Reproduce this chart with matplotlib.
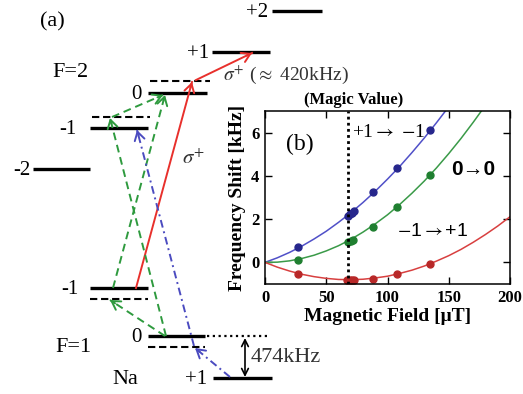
import numpy as np
import matplotlib.pyplot as plt

plt.rcParams['mathtext.fontset'] = 'stix'
SERIF = ['Liberation Serif', 'DejaVu Sans']
SANS = ['Liberation Sans', 'DejaVu Sans']

# ---- (a) Na hyperfine levels (schematic, in picture pixels) ----
lvl_text = ['+2', '+1', '0', '-1', '-2', '-1', '0', '+1']
lvl_x0 = [272, 212, 148, 90, 33, 90, 148, 213]
lvl_x1 = [322, 270, 207, 148, 90, 148, 205, 272]
lvl_y = [11, 52, 93, 128, 169, 288, 336, 378]
lbl_x = [268, 209, 142, 76, 30, 78, 142, 207]

# light-shifted levels (dashed)
sh_x0 = [150, 92, 90, 148]
sh_x1 = [210, 150, 148, 205]
sh_y = [81, 117, 299, 347]

# transitions: start, end, colour, style
red = '#e8302c'
green = '#2e9a3e'
blue = '#4b4bc0'
transitions = [
    ((136, 288), (192, 82), red, '-'),
    ((196, 80), (252, 53), red, '-'),
    ((166, 336), (110, 118), green, (0, (4, 2.5))),
    ((113, 288), (165, 95), green, (0, (4, 2.5))),
    ((112, 117), (163, 95), green, (0, (4, 2.5))),
    ((165, 336), (110, 300), green, (0, (4, 2.5))),
    ((194, 346), (137, 130), blue, (0, (4, 2, 1, 2))),
    ((230, 377), (195, 348), blue, (0, (4, 2, 1, 2))),
]

# ---- (b) frequency shift vs magnetic field ----
b_curve = [0, 10, 20, 30, 40, 50, 60, 70, 80, 90, 100, 110, 120, 130, 140, 148]
shift_pm = [0, 0.21, 0.46, 0.75, 1.08, 1.44, 1.85, 2.29, 2.77, 3.29, 3.85, 4.44,
            5.08, 5.75, 6.46, 7.05]
b_curve0 = [0, 10, 20, 30, 40, 50, 60, 70, 80, 90, 100, 110, 120, 130, 140, 150,
            160, 170, 177]
shift_00 = [0, 0.01, 0.07, 0.18, 0.33, 0.53, 0.77, 1.06, 1.40, 1.78, 2.20, 2.68,
            3.20, 3.76, 4.37, 5.03, 5.73, 6.48, 7.03]
b_curve2 = [0, 10, 20, 30, 40, 50, 60, 70, 80, 90, 100, 110, 120, 130, 140, 150,
            160, 170, 180, 190, 200]
shift_mp = [0, -0.22, -0.40, -0.55, -0.66, -0.74, -0.79, -0.80, -0.78, -0.72,
            -0.64, -0.51, -0.36, -0.17, 0.06, 0.31, 0.60, 0.93, 1.29, 1.68, 2.11]

b_pm = [27, 68, 69, 71, 73, 88, 108, 135]
meas_pm = [0.69, 2.15, 2.22, 2.30, 2.36, 3.24, 4.38, 6.10]
b_00 = [27, 68, 70, 72, 88, 108, 135]
meas_00 = [0.13, 0.93, 0.98, 1.05, 1.65, 2.56, 4.05]
b_mp = [27, 67, 69, 71, 73, 88, 108, 135]
meas_mp = [-0.54, -0.82, -0.83, -0.82, -0.82, -0.77, -0.54, -0.06]
magic_b = 68

fig = plt.figure(figsize=(5.23, 3.94), dpi=100)
ax = fig.add_axes([0, 0, 1, 1])
ax.set_xlim(0, 523)
ax.set_ylim(394, 0)
ax.axis('off')

for x0, x1, y in zip(lvl_x0, lvl_x1, lvl_y):
    ax.plot([x0, x1], [y, y], color='black', lw=2.4, solid_capstyle='butt')
for t, x, y in zip(lvl_text, lbl_x, lvl_y):
    ax.text(x, y + 1, t, ha='right', va='center', fontsize=15, family=SERIF)
for x0, x1, y in zip(sh_x0, sh_x1, sh_y):
    ax.plot([x0, x1], [y, y], color='black', lw=1.5, ls=(0, (3.5, 1.8)))

# dotted reference and splitting arrow
ax.plot([207, 268], [336, 336], color='black', lw=1.6, ls=(0, (1, 1.6)))
ax.annotate('', xy=(245, 338), xytext=(245, 377),
            arrowprops=dict(arrowstyle='<->', color='black', lw=1.2,
                            shrinkA=0, shrinkB=0, mutation_scale=12))
ax.text(251, 357, '474kHz', ha='left', va='center', fontsize=16, family=SERIF,
        color='#333333')

for (s, e, c, ls) in transitions:
    ax.plot([s[0], e[0]], [s[1], e[1]], color=c, lw=1.4, ls=ls)
    d = np.array(e, float) - np.array(s, float)
    d = d / np.hypot(*d)
    back = (e[0] - 6 * d[0], e[1] - 6 * d[1])
    ax.annotate('', xy=e, xytext=back,
                arrowprops=dict(arrowstyle='->,head_length=0.5,head_width=0.3',
                                color=c, lw=1.4, shrinkA=0, shrinkB=0,
                                mutation_scale=12))

ax.text(40, 22, '(a)', ha='left', va='center', fontsize=16, family=SERIF)
ax.text(52, 72, 'F=2', ha='left', va='center', fontsize=16, family=SERIF)
ax.text(55, 348, 'F=1', ha='left', va='center', fontsize=16, family=SERIF)
ax.text(112, 379, 'Na', ha='left', va='center', fontsize=16, family=SERIF)
ax.text(182, 158, r'$\sigma^{+}$', ha='left', va='center', fontsize=15,
        color='#333333')
ax.text(223, 75, r'$\sigma^{+}$ ($\approx$ 420kHz)', ha='left', va='center',
        fontsize=14, color='#333333', family=SERIF)

# ---- inset (b) ----
bx = fig.add_axes([265 / 523, 1 - 284 / 394, 245 / 523, 173 / 394])
bx.plot(b_curve, shift_pm, color='#5050c8', lw=1.1)
bx.plot(b_curve0, shift_00, color='#3a9a48', lw=1.1)
bx.plot(b_curve2, shift_mp, color='#d84040', lw=1.1)
bx.plot(b_pm, meas_pm, 'o', color='#26268c', ms=5)
bx.plot(b_00, meas_00, 'o', color='#1f7f30', ms=5)
bx.plot(b_mp, meas_mp, 'o', color='#b82828', ms=5)
bx.axvline(magic_b, color='black', lw=2, ls=(0, (1, 1.2)))

bx.set_xlim(0, 200)
bx.set_ylim(-1, 7)
bx.set_xticks([0, 50, 100, 150, 200])
bx.set_yticks([0, 2, 4, 6])
bx.tick_params(direction='in', top=True, right=True, length=5, width=1,
               labelsize=12, pad=4)
for lab in bx.get_xticklabels() + bx.get_yticklabels():
    lab.set_family(SERIF)
    lab.set_fontweight('bold')
for sp in bx.spines.values():
    sp.set_linewidth(1.1)
bx.set_xlabel('Magnetic Field [\u03bcT]', fontsize=14, fontweight='bold',
              family=SERIF, labelpad=2)
bx.set_ylabel('Frequency Shift [kHz]', fontsize=14, fontweight='bold',
              family=SERIF, labelpad=4)

bx.text(magic_b + 4, 7.5, '(Magic Value)', ha='center', va='center',
        fontsize=12, fontweight='bold', family=SERIF)
bx.text(17, 5.45, '(b)', ha='left', va='center', fontsize=17, family=SERIF)
bx.text(71, 6.0, r'+1$\rightarrow$ $-$1', ha='left', va='center', fontsize=14,
        family=SERIF)
bx.text(170, 4.3, '0\u21920', ha='center', va='center', fontsize=15,
        fontweight='bold', family=SANS)
bx.text(137, 1.42, r'$-$1$\rightarrow$+1', ha='center', va='center',
        fontsize=14, family=SANS)

fig.savefig('out.png', dpi=100)
